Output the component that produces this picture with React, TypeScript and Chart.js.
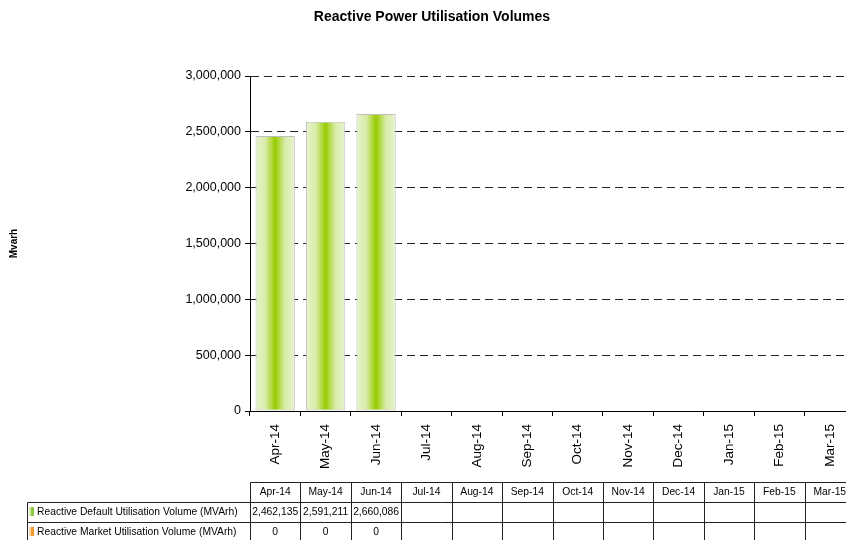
import React, { useEffect, useRef } from "react";
import { Chart, registerables } from "chart.js";

Chart.register(...registerables);

const chartTitle = "Reactive Power Utilisation Volumes";
const yAxisTitle = "Mvarh";
const months = ["Apr-14", "May-14", "Jun-14", "Jul-14", "Aug-14", "Sep-14", "Oct-14", "Nov-14", "Dec-14", "Jan-15", "Feb-15", "Mar-15"];
const defaultVolumes: (number | null)[] = [2462135, 2591211, 2660086, null, null, null, null, null, null, null, null, null];
const marketVolumes: (number | null)[] = [0, 0, 0, null, null, null, null, null, null, null, null, null];
const seriesNames = ["Reactive Default Utilisation Volume (MVArh)", "Reactive Market Utilisation Volume (MVArh)"];
const yMin = 0;
const yMax = 3000000;
const yStep = 500000;

const FONT = "'Liberation Sans', Arial, sans-serif";
const fmt = (v: number | null) => (v === null || v === undefined ? "" : Number(v).toLocaleString("en-US"));

const BAR_PCT = 0.78;

const customDraw = {
  id: "customDraw",
  afterDraw(chart: any) {
    const ctx = chart.ctx as CanvasRenderingContext2D;
    const xs = chart.scales.x;
    ctx.save();
    // Title
    ctx.fillStyle = "#000";
    ctx.font = `bold 14px ${FONT}`;
    ctx.textAlign = "center";
    ctx.textBaseline = "middle";
    ctx.fillText(chartTitle, chart.width / 2, 17);
    // Y title
    ctx.save();
    ctx.translate(14, (chart.chartArea.top + chart.chartArea.bottom) / 2);
    ctx.rotate(-Math.PI / 2);
    ctx.font = `bold 10px ${FONT}`;
    ctx.fillText(yAxisTitle, 0, 0);
    ctx.restore();

    // Data table
    const step = xs.getPixelForValue(1) - xs.getPixelForValue(0);
    const left = chart.chartArea.left;
    const right = left + step * months.length;
    const labelLeft = 27;
    const rowTop = [482, 502, 522];
    const rowH = 20;
    ctx.strokeStyle = "#222";
    ctx.lineWidth = 1;
    const line = (x1: number, y1: number, x2: number, y2: number) => {
      ctx.beginPath();
      ctx.moveTo(Math.round(x1) + 0.5, Math.round(y1) + 0.5);
      ctx.lineTo(Math.round(x2) + 0.5, Math.round(y2) + 0.5);
      ctx.stroke();
    };
    line(left, rowTop[0], right, rowTop[0]);
    line(labelLeft, rowTop[1], right, rowTop[1]);
    line(labelLeft, rowTop[2], right, rowTop[2]);
    line(labelLeft, rowTop[2] + rowH, right, rowTop[2] + rowH);
    line(labelLeft, rowTop[1], labelLeft, rowTop[2] + rowH);
    for (let i = 0; i <= months.length; i++) {
      const x = left + step * i;
      line(x, rowTop[0], x, rowTop[2] + rowH);
    }
    ctx.font = `10.3px ${FONT}`;
    ctx.textAlign = "center";
    ctx.textBaseline = "middle";
    ctx.fillStyle = "#000";
    const rows = [defaultVolumes, marketVolumes];
    for (let i = 0; i < months.length; i++) {
      const cx = xs.getPixelForValue(i);
      ctx.fillText(months[i], cx, rowTop[0] + rowH / 2 + 0.5);
      rows.forEach((r, k) => {
        ctx.fillText(fmt(r[i]), cx, rowTop[k + 1] + rowH / 2 + 0.5);
      });
    }
    const keyColors = [
      ["#d6ecae", "#8cc63f"],
      ["#fbd7a8", "#f39a2e"],
    ];
    seriesNames.forEach((name, k) => {
      const y = rowTop[k + 1] + 5;
      ctx.fillStyle = keyColors[k][0];
      ctx.fillRect(29, y, 2, 9);
      ctx.fillStyle = keyColors[k][1];
      ctx.fillRect(31, y, 3, 9);
      ctx.fillStyle = "#000";
      ctx.textAlign = "left";
      ctx.fillText(name, 37, rowTop[k + 1] + rowH / 2 + 0.5);
    });
    ctx.restore();
  },
};

function barGradient(c: any) {
  const chart = c.chart;
  const xs = chart.scales?.x;
  if (!xs || c.type !== "data" || !chart.chartArea) return "#a8d42a";
  const step = xs.getPixelForValue(1) - xs.getPixelForValue(0);
  const cx = xs.getPixelForValue(c.dataIndex);
  const w = step * BAR_PCT;
  const g = chart.ctx.createLinearGradient(cx - w / 2, 0, cx + w / 2, 0);
  g.addColorStop(0, "#e8f3cf");
  g.addColorStop(0.25, "#d8eca8");
  g.addColorStop(0.5, "#99cc00");
  g.addColorStop(0.75, "#d8eca8");
  g.addColorStop(1, "#e8f3cf");
  return g;
}

export default function App() {
  const ref = useRef<HTMLCanvasElement | null>(null);
  useEffect(() => {
    if (!ref.current) return;
    const chart = new Chart(ref.current, {
      type: "bar",
      data: {
        labels: months,
        datasets: [
          {
            label: seriesNames[0],
            data: defaultVolumes as any,
            backgroundColor: barGradient as any,
            borderColor: "#c0c0c0",
            borderWidth: 1,
            borderSkipped: false,
            barPercentage: BAR_PCT,
            categoryPercentage: 1,
          },
          {
            label: seriesNames[1],
            data: marketVolumes as any,
            backgroundColor: "#f39a2e",
            borderWidth: 0,
            barPercentage: BAR_PCT,
            categoryPercentage: 1,
          },
        ],
      },
      options: {
        responsive: false,
        animation: false,
        devicePixelRatio: 1,
        layout: { padding: { top: 76, left: 0, right: 9, bottom: 0 } },
        plugins: {
          legend: { display: false },
          title: { display: false },
          tooltip: { enabled: false },
        },
        scales: {
          x: {
            stacked: true,
            grid: { display: true, drawOnChartArea: false, drawTicks: true, tickLength: 5, color: "#000", offset: true },
            border: { display: true, color: "#000", width: 1 },
            ticks: {
              minRotation: 90,
              maxRotation: 90,
              autoSkip: false,
              padding: 8,
              color: "#000",
              font: { family: FONT, size: 13.5 },
            },
            afterFit: (s: any) => {
              s.height = 129;
            },
          },
          y: {
            stacked: true,
            min: yMin,
            max: yMax,
            grid: { color: "#222", lineWidth: 1, drawTicks: true, tickLength: 5, tickColor: "#000" },
            border: { display: true, color: "#000", width: 1, dash: [8, 5] },
            ticks: {
              stepSize: yStep,
              padding: 4,
              color: "#000",
              font: { family: FONT, size: 12.5 },
              callback: (v: any) => Number(v).toLocaleString("en-US"),
            },
            afterFit: (s: any) => {
              s.width = 250;
            },
          },
        },
      },
      plugins: [customDraw],
    });
    return () => chart.destroy();
  }, []);
  return (
    <div style={{ position: "absolute", left: 0, top: 0, width: 846, height: 540, overflow: "hidden", background: "#fff" }}>
      <canvas ref={ref} width={864} height={540} style={{ display: "block", width: 864, height: 540 }} />
    </div>
  );
}
